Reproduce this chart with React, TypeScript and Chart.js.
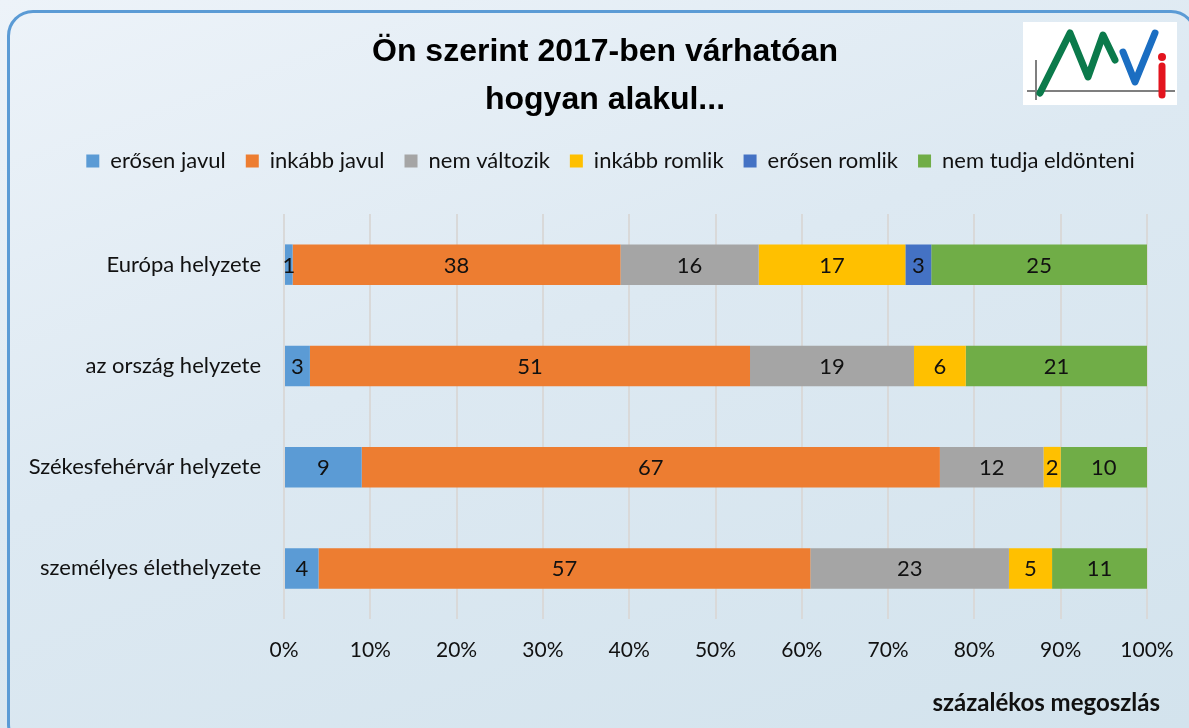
import React, { useEffect, useRef } from "react";
import { Chart, registerables } from "chart.js";

Chart.register(...registerables);

const categories = [
  "Európa helyzete",
  "az ország helyzete",
  "Székesfehérvár helyzete",
  "személyes élethelyzete",
];
const seriesNames = [
  "erősen javul",
  "inkább javul",
  "nem változik",
  "inkább romlik",
  "erősen romlik",
  "nem tudja eldönteni",
];
const erosenJavul = [1, 3, 9, 4];
const inkabbJavul = [38, 51, 67, 57];
const nemValtozik = [16, 19, 12, 23];
const inkabbRomlik = [17, 6, 2, 5];
const erosenRomlik = [3, 0, 0, 0];
const nemTudja = [25, 21, 10, 11];
const seriesColors = ["#5B9BD5", "#ED7D31", "#A5A5A5", "#FFC000", "#4472C4", "#70AD47"];
const titleLines = ["Ön szerint 2017-ben várhatóan", "hogyan alakul..."];
const axisTitle = "százalékos megoszlás";

const FONT = "Lato, 'Open Sans', sans-serif";

const dataLabelPlugin = {
  id: "dataLabels",
  afterDatasetsDraw(chart: any) {
    const ctx = chart.ctx;
    ctx.save();
    ctx.font = `22px ${FONT}`;
    ctx.fillStyle = "#111";
    ctx.textAlign = "center";
    ctx.textBaseline = "middle";
    chart.data.datasets.forEach((ds: any, i: number) => {
      const meta = chart.getDatasetMeta(i);
      meta.data.forEach((bar: any, j: number) => {
        const v = ds.data[j];
        if (!v) return;
        const cx = (bar.x + bar.base) / 2;
        ctx.fillText(String(v), cx, bar.y + 1);
      });
    });
    ctx.restore();
  },
};

const axisTitlePlugin = {
  id: "axisTitleCustom",
  afterDraw(chart: any) {
    const ctx = chart.ctx;
    ctx.save();
    ctx.font = `bold 24px ${FONT}`;
    ctx.fillStyle = "#111";
    ctx.textAlign = "right";
    ctx.textBaseline = "middle";
    ctx.fillText(axisTitle, 1160, 703);
    ctx.restore();
  },
};

// shift title and legend horizontally so they are centred like the original
const shiftBlocksPlugin = {
  id: "shiftBlocks",
  afterLayout(chart: any) {
    const t = chart.titleBlock;
    if (t) {
      t.left += 26.5;
      t.right += 26.5;
    }
    const l = chart.legend;
    if (l) {
      l.left += 32;
      l.right += 32;
    }
  },
};

export default function App() {
  const ref = useRef<HTMLCanvasElement | null>(null);

  useEffect(() => {
    document.body.style.margin = "0";
    const seriesData = [erosenJavul, inkabbJavul, nemValtozik, inkabbRomlik, erosenRomlik, nemTudja];
    const chart = new Chart(ref.current as HTMLCanvasElement, {
      type: "bar",
      data: {
        labels: categories,
        datasets: seriesNames.map((name, i) => ({
          label: name,
          data: seriesData[i],
          backgroundColor: seriesColors[i],
          borderWidth: 0,
          categoryPercentage: 0.4,
          barPercentage: 1,
        })),
      },
      options: {
        indexAxis: "y",
        animation: false,
        responsive: false,
        layout: { padding: { left: 10, right: 42, top: 0, bottom: 0 } },
        plugins: {
          title: {
            display: true,
            text: titleLines,
            color: "#000",
            font: { family: "'Liberation Sans', Arial, sans-serif", size: 32, weight: "bold", lineHeight: 48 / 32 },
            padding: { top: 28, bottom: 6 },
          },
          legend: {
            display: true,
            position: "top",
            labels: {
              boxWidth: 13,
              boxHeight: 13,
              padding: 20,
              color: "#111",
              font: { family: FONT, size: 22 },
            },
          },
          tooltip: { enabled: false },
        },
        scales: {
          x: {
            stacked: true,
            min: 0,
            max: 100,
            position: "bottom",
            grid: { display: true, drawTicks: false, color: "#D9D9D9", lineWidth: 2 },
            border: { display: false },
            ticks: {
              stepSize: 10,
              padding: 18.5,
              color: "#111",
              font: { family: FONT, size: 21 },
              callback: (v: any) => `${v}%`,
            },
            afterFit: (s: any) => {
              s.height = 109;
              s.paddingLeft = 0;
              s.paddingRight = 0;
            },
          },
          xTop: {
            position: "top",
            display: true,
            grid: { display: false, drawTicks: false },
            border: { display: false },
            ticks: { display: false },
            afterFit: (s: any) => {
              s.height = 32;
              s.paddingLeft = 0;
              s.paddingRight = 0;
            },
          },
          y: {
            stacked: true,
            grid: { display: false, drawTicks: false },
            border: { display: false },
            ticks: {
              padding: 23,
              color: "#111",
              font: { family: FONT, size: 22 },
            },
            afterFit: (s: any) => {
              s.width = 274;
            },
          },
        },
      },
      plugins: [dataLabelPlugin, axisTitlePlugin, shiftBlocksPlugin],
    } as any);
    return () => chart.destroy();
  }, []);

  return (
    <div
      style={{
        position: "fixed",
        left: 0,
        top: 0,
        width: 1189,
        height: 728,
        overflow: "hidden",
        background: "linear-gradient(160deg, #edf3f9 0%, #dde9f2 45%, #d3e3ed 100%)",
      }}
    >
      <div
        style={{
          position: "absolute",
          left: 7,
          top: 10,
          width: 1190,
          height: 740,
          border: "3px solid #5B9BD5",
          borderRadius: 26,
          boxSizing: "border-box",
        }}
      />
      <canvas
        ref={ref}
        width={1189}
        height={728}
        style={{ position: "absolute", left: 0, top: 0, width: 1189, height: 728 }}
      />
      <svg
        width={154}
        height={83}
        viewBox="1023 22 154 83"
        style={{ position: "absolute", left: 1023, top: 22 }}
      >
        <rect x={1023} y={22} width={154} height={83} fill="#ffffff" />
        <line x1={1027} y1={91} x2={1175} y2={91} stroke="#7f7f7f" strokeWidth={2} />
        <line x1={1036} y1={60} x2={1036} y2={100} stroke="#7f7f7f" strokeWidth={2} />
        <polyline
          points="1040,93 1070,33 1088,77 1103,35 1115,60"
          fill="none"
          stroke="#0B7A4B"
          strokeWidth={7}
          strokeLinecap="round"
          strokeLinejoin="round"
        />
        <polyline
          points="1123,52 1135,82 1155,33"
          fill="none"
          stroke="#1B6EC2"
          strokeWidth={7}
          strokeLinecap="round"
          strokeLinejoin="round"
        />
        <circle cx={1162} cy={57} r={4} fill="#E3141E" />
        <line x1={1162} y1={66} x2={1162} y2={95} stroke="#E3141E" strokeWidth={7} strokeLinecap="round" />
      </svg>
    </div>
  );
}
